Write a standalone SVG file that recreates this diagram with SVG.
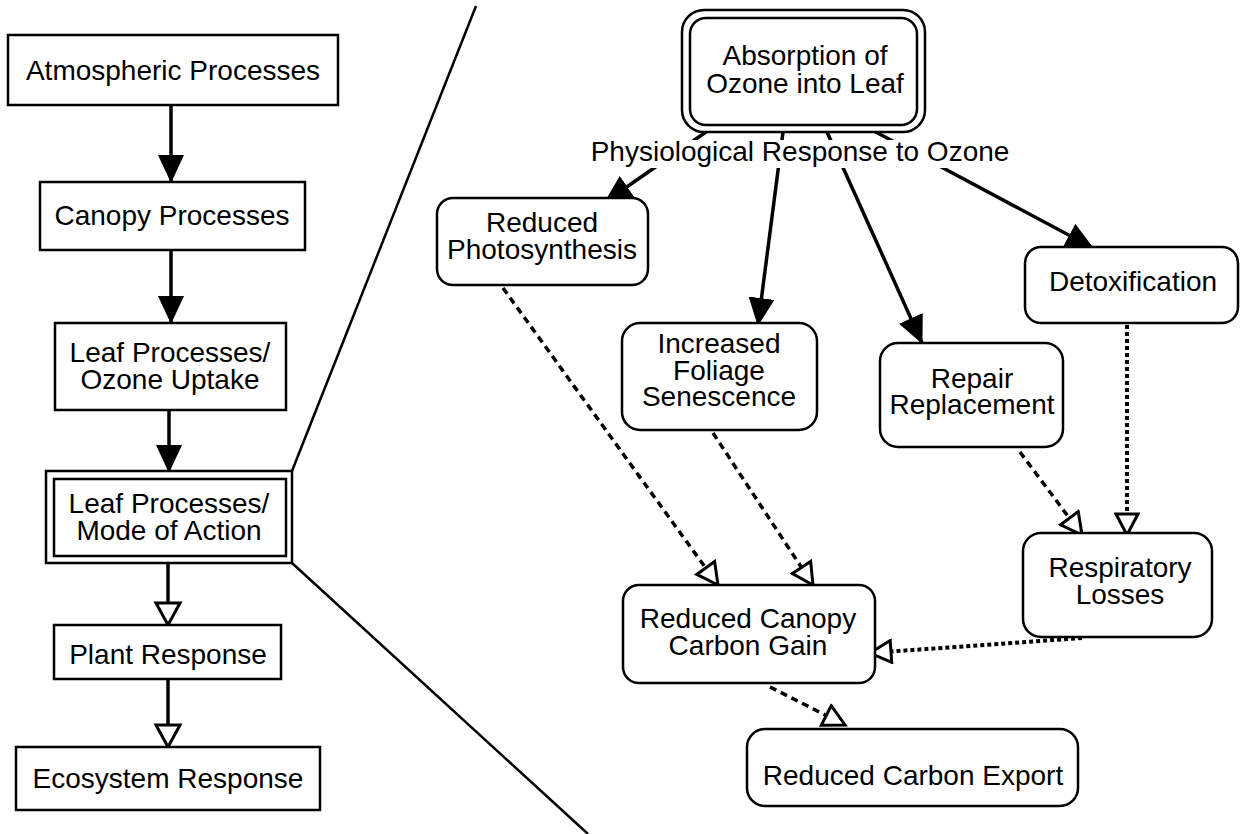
<svg xmlns="http://www.w3.org/2000/svg" width="1242" height="834" viewBox="0 0 1242 834">
<style>
text{font-family:"Liberation Sans",Arial,Helvetica,sans-serif;font-size:28px;fill:#000;text-anchor:middle}
.box{fill:#fff;stroke:#000;stroke-width:2.5}
.rbox{fill:#fff;stroke:#000;stroke-width:2.5}
.solid{fill:none;stroke:#000;stroke-width:3.5}
.dash{fill:none;stroke:#000;stroke-width:3.5;stroke-dasharray:7 5}
.dot{fill:none;stroke:#000;stroke-width:4;stroke-dasharray:4 3}
.divider{fill:none;stroke:#000;stroke-width:2.5}
</style>
<defs>
<marker id="filled" markerUnits="userSpaceOnUse" viewBox="0 0 28 26" refX="27" refY="13" markerWidth="28" markerHeight="26" orient="auto">
<path d="M0,0 L28,13 L0,26 z" fill="#000" stroke="none"/>
</marker>
<marker id="open" markerUnits="userSpaceOnUse" viewBox="0 0 28 30" refX="25" refY="15" markerWidth="28" markerHeight="30" orient="auto">
<path d="M3,3 L25,15 L3,27 z" fill="#fff" stroke="#000" stroke-width="3" stroke-dasharray="none"/>
</marker>
<marker id="open2" markerUnits="userSpaceOnUse" viewBox="0 0 26 26" refX="23" refY="13" markerWidth="26" markerHeight="26" orient="auto">
<path d="M2,2 L23,13 L2,24 z" fill="#fff" stroke="#000" stroke-width="3" stroke-dasharray="none"/>
</marker>
</defs>

<g id="connectors">
<line class="divider" x1="476" y1="6" x2="292" y2="471"/>
<line class="divider" x1="292" y1="563" x2="588" y2="834"/>
<line class="solid" x1="171" y1="105" x2="171" y2="182" marker-end="url(#filled)"/>
<line class="solid" x1="171" y1="250" x2="171" y2="323" marker-end="url(#filled)"/>
<line class="solid" x1="169" y1="410" x2="169" y2="472" marker-end="url(#filled)"/>
<line class="solid" x1="168" y1="563" x2="168" y2="625" marker-end="url(#open)"/>
<line class="solid" x1="168" y1="679" x2="168" y2="747" marker-end="url(#open)"/>
<line class="solid" x1="706" y1="132" x2="605" y2="202" marker-end="url(#filled)"/>
<line class="solid" x1="783" y1="132" x2="758" y2="325" marker-end="url(#filled)"/>
<line class="solid" x1="827" y1="132" x2="922" y2="343" marker-end="url(#filled)"/>
<line class="solid" x1="872" y1="130" x2="1093" y2="248" marker-end="url(#filled)"/>
<line class="dash" x1="503" y1="288" x2="718" y2="585" marker-end="url(#open2)"/>
<line class="dash" x1="713" y1="433" x2="813" y2="585" marker-end="url(#open2)"/>
<line class="dash" x1="1020" y1="452" x2="1082" y2="535" marker-end="url(#open2)"/>
<line class="dot" x1="1127" y1="325" x2="1127" y2="535" marker-end="url(#open2)"/>
<line class="dot" x1="1082" y1="638" x2="870" y2="653" marker-end="url(#open2)"/>
<line class="dash" x1="770" y1="687" x2="845" y2="725" marker-end="url(#open2)"/>
</g>

<g id="label-physiological">
<rect x="584" y="140" width="432" height="28" fill="#fff"/>
<text x="800" y="161">Physiological Response to Ozone</text>
</g>

<g id="atmospheric">
<rect class="box" x="8" y="35" width="330" height="70"/>
<text x="173" y="80">Atmospheric Processes</text>
</g>
<g id="canopy">
<rect class="box" x="40" y="182" width="265" height="68"/>
<text x="172" y="225">Canopy Processes</text>
</g>
<g id="ozone-uptake">
<rect class="box" x="55" y="323" width="231" height="87"/>
<text x="170" y="362">Leaf Processes/</text>
<text x="170" y="389">Ozone Uptake</text>
</g>
<g id="mode-of-action">
<rect class="box" x="46" y="471" width="246" height="92"/>
<rect class="box" x="54" y="479" width="232" height="77"/>
<text x="169" y="513">Leaf Processes/</text>
<text x="169" y="540">Mode of Action</text>
</g>
<g id="plant-response">
<rect class="box" x="54" y="625" width="227" height="54"/>
<text x="168" y="664">Plant Response</text>
</g>
<g id="ecosystem-response">
<rect class="box" x="16" y="747" width="304" height="63"/>
<text x="168" y="788">Ecosystem Response</text>
</g>

<g id="absorption">
<rect class="rbox" x="682" y="10" width="243" height="122" rx="22" stroke-width="3"/>
<rect class="rbox" x="690" y="18" width="227" height="107" rx="16" stroke-width="3"/>
<text x="805" y="65">Absorption of</text>
<text x="805" y="93">Ozone into Leaf</text>
</g>
<g id="reduced-photosynthesis">
<rect class="rbox" x="437" y="198" width="211" height="87" rx="16"/>
<text x="542" y="232">Reduced</text>
<text x="542" y="259">Photosynthesis</text>
</g>
<g id="foliage-senescence">
<rect class="rbox" x="622" y="323" width="195" height="107" rx="18"/>
<text x="719" y="353">Increased</text>
<text x="719" y="380">Foliage</text>
<text x="719" y="406">Senescence</text>
</g>
<g id="repair-replacement">
<rect class="rbox" x="880" y="343" width="183" height="104" rx="18"/>
<text x="972" y="388">Repair</text>
<text x="972" y="414">Replacement</text>
</g>
<g id="detoxification">
<rect class="rbox" x="1025" y="247" width="213" height="76" rx="16"/>
<text x="1133" y="291">Detoxification</text>
</g>
<g id="respiratory-losses">
<rect class="rbox" x="1023" y="533" width="189" height="104" rx="18"/>
<text x="1120" y="577">Respiratory</text>
<text x="1120" y="604">Losses</text>
</g>
<g id="canopy-carbon-gain">
<rect class="rbox" x="623" y="585" width="252" height="98" rx="16"/>
<text x="748" y="628">Reduced Canopy</text>
<text x="748" y="655">Carbon Gain</text>
</g>
<g id="carbon-export">
<rect class="rbox" x="747" y="729" width="331" height="77" rx="18" stroke-width="6"/>
<text x="913" y="785">Reduced Carbon Export</text>
</g>
</svg>
